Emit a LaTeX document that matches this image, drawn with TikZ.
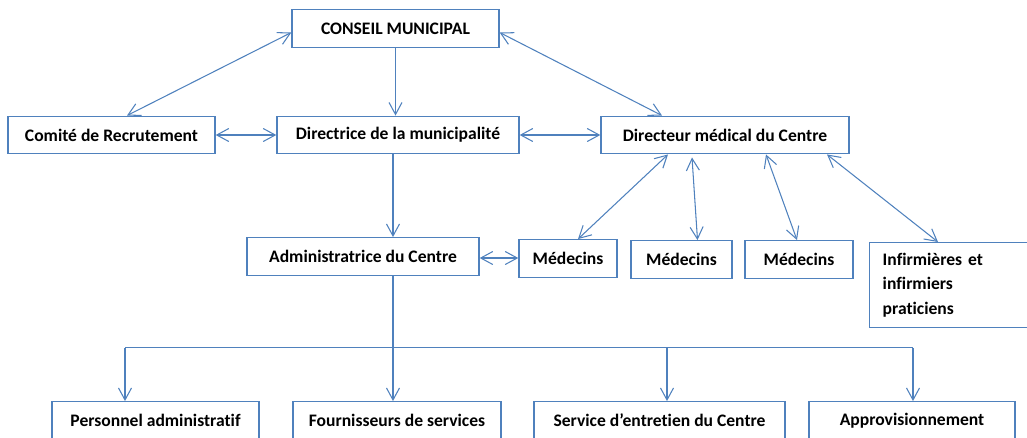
\documentclass[tikz,border=0pt]{standalone}
\usepackage{fontspec}
\setmainfont{Carlito}[Ligatures=NoCommon]
\usetikzlibrary{arrows.meta,calc}
\definecolor{boxblue}{HTML}{4F81BD}
\tikzset{
	orgbox/.style={draw=boxblue, line width=0.8pt, minimum height=0.75cm, inner sep=2pt, font=\fontsize{10}{14.2}\selectfont\bfseries},
	link/.style={draw=boxblue, line width=0.6pt, >={Straight Barb[length=2.4mm,width=2.6mm]}}
}
\begin{document}
\begin{tikzpicture}[x=0.02cm, y=-0.02cm]
				\clip (0,0) rectangle (1027,437);
				\node[orgbox, minimum width=4.14cm] (conseil) at (395.5,28.5) {CONSEIL MUNICIPAL};
				\node[orgbox, minimum width=4.14cm] (comite) at (111.5,135) {Comité de Recrutement};
				\node[orgbox, minimum width=4.84cm] (directrice) at (398,135) {Directrice de la municipalité};
				\node[orgbox, minimum width=4.96cm] (directeur) at (725,135) {Directeur médical du Centre};
				\node[orgbox, minimum width=4.64cm] (admin) at (363,256.5) {Administratrice du Centre};
				\node[orgbox, minimum width=1.96cm] (med1) at (568,258.5) {Médecins};
				\node[orgbox, minimum width=2.02cm] (med2) at (681.5,259.5) {Médecins};
				\node[orgbox, minimum width=2.16cm] (med3) at (799,259.5) {Médecins};
				\node[orgbox, anchor=north west, text width=2.8cm, align=left, inner xsep=0.26cm, minimum height=1.7cm] (infirm) at (869,242) {Infirmières et\\infirmiers\\praticiens};
				\node[orgbox, minimum width=4.14cm] (personnel) at (155.5,420.5) {Personnel administratif};
				\node[orgbox, minimum width=4.16cm] (fourn) at (397,420.5) {Fournisseurs de services};
				\node[orgbox, minimum width=5.02cm] (service) at (659.5,420.5) {Service d’entretien du Centre};
				\node[orgbox, minimum width=4.12cm] (appro) at (912,420.5) {Approvisionnement};
				\draw[link, <->] ($(conseil.west)+(0,4)$) -- ($(comite.north)+(15.5,0)$);
				\draw[link, <->] ($(conseil.east)+(0,4)$) -- ($(directeur.north)+(-63,0)$);
				\draw[link, ->] (conseil.south) -- (conseil.south |- directrice.north);
				\draw[link, <->] (comite.east) -- (directrice.west);
				\draw[link, <->] (directrice.east) -- (directeur.west);
				\coordinate (d1) at ($(directrice.south)+(-5,0)$);
				\draw[link, ->] (d1) -- (d1 |- admin.north);
				\draw[link, <->] ($(admin.east)+(0,1.5)$) -- ($(admin.east -| med1.west)+(0,1.5)$);
				\foreach \n/\sx/\sy/\ex in {med1.north/-57/0/10, med2.north/-33/3/16, med3.north/41/0/-2, infirm.north west/102/0/69} {
					\draw[link, <->] ($(directeur.south)+(\sx,\sy)$) -- ($(\n)+(\ex,0)$);
				}
				\coordinate (bus) at ($(admin.south)+(30,72)$);
				\draw[link] ($(admin.south)+(30,0)$) -- (bus);
				\foreach \n/\dx in {personnel/-30.5, fourn/-4, service/7.5, appro/1} {
					\coordinate (t\n) at ($(\n.north)+(\dx,0)$);
					\draw[link, ->] (t\n |- bus) -- (t\n);
				}
				\draw[link] (tpersonnel |- bus) -- (tappro |- bus);
			\end{tikzpicture}
\end{document}
